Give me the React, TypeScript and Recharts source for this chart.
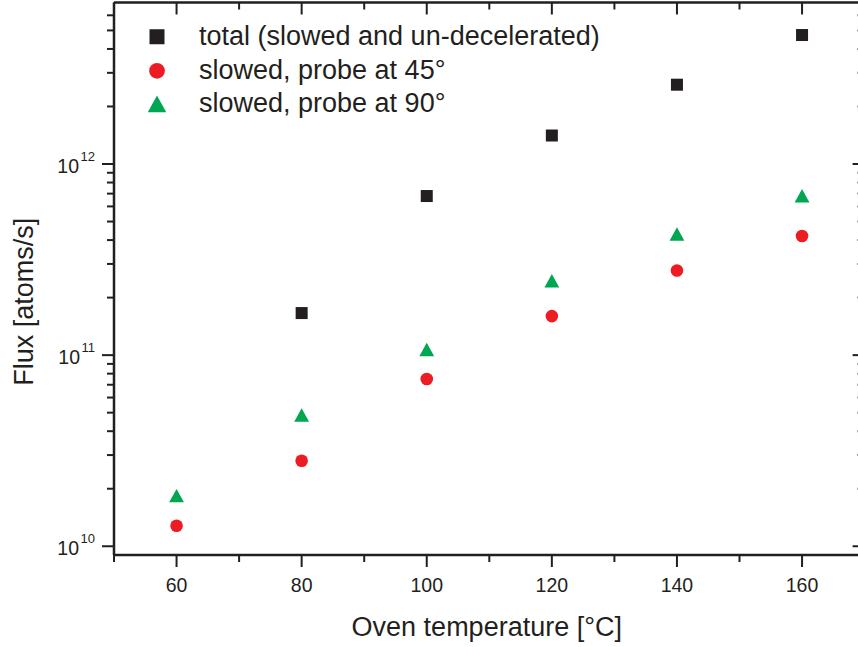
import React from 'react';
import { ScatterChart, Scatter, XAxis, YAxis, Legend } from 'recharts';

// oven temperature [°C]
const temps = [60, 80, 100, 120, 140, 160];
// flux [atoms/s], no total measured at 60 °C
const totalFlux = [null, 1.66e11, 6.8e11, 1.41e12, 2.6e12, 4.73e12];
const slowed45 = [1.28e10, 2.8e10, 7.5e10, 1.6e11, 2.77e11, 4.2e11];
const slowed90 = [1.84e10, 4.86e10, 1.07e11, 2.45e11, 4.3e11, 6.82e11];

const seriesNames = ['total (slowed and un-decelerated)', 'slowed, probe at 45°', 'slowed, probe at 90°'];

const xMajor = [60, 80, 100, 120, 140, 160];
const xTicks = [50, 60, 70, 80, 90, 100, 110, 120, 130, 140, 150, 160, 170];
const yMajor = [1e10, 1e11, 1e12];
const yMinor = [
  2e10, 3e10, 4e10, 5e10, 6e10, 7e10, 8e10, 9e10,
  2e11, 3e11, 4e11, 5e11, 6e11, 7e11, 8e11, 9e11,
  2e12, 3e12, 4e12, 5e12, 6e12,
];

const FONT = '"Liberation Sans", Arial, sans-serif';
const INK = '#231f20';
const BLACK = '#231f20';
const RED = '#ed1c24';
const GREEN = '#00a651';

const toPoints = (vals: (number | null)[]) =>
  temps
    .map((t, i) => ({ t, v: vals[i] }))
    .filter((p) => p.v != null);

const totalData = toPoints(totalFlux);
const s45Data = toPoints(slowed45);
const s90Data = toPoints(slowed90);

const marker = (type: string, cx: number, cy: number, color: string, k = 1) => {
  if (type === 'square') {
    const s = 12 * k;
    return <rect x={cx - s / 2} y={cy - s / 2} width={s} height={s} fill={color} />;
  }
  if (type === 'triangle') {
    const w = 14.8 * k;
    const h = 13.4 * k;
    return (
      <polygon
        points={`${cx},${cy - h / 2} ${cx - w / 2},${cy + h / 2} ${cx + w / 2},${cy + h / 2}`}
        fill={color}
      />
    );
  }
  return <circle cx={cx} cy={cy} r={6.3 * k} fill={color} />;
};

const YTick = (props: any) => {
  const { x, y, payload, side } = props;
  const major = yMajor.includes(payload.value);
  const len = major ? 12 : 7;
  const exp = Math.round(Math.log10(payload.value));
  return (
    <g>
      <line x1={x} y1={y} x2={x - len} y2={y} stroke={INK} strokeWidth={2} />
      {major && side === 'left' && (
        <text x={x - 19} y={y + 8.7} textAnchor="end" fontFamily={FONT} fontSize={19.5} fill={INK}>
          10
          <tspan dx={1.5} dy={-12} fontSize={13}>
            {exp}
          </tspan>
        </text>
      )}
    </g>
  );
};

const XTick = (props: any) => {
  const { x, y, payload, side } = props;
  const major = xMajor.includes(payload.value);
  const len = major ? 12 : 7;
  return (
    <g>
      <line x1={x} y1={y} x2={x} y2={y + len} stroke={INK} strokeWidth={2} />
      {major && side === 'bottom' && (
        <text x={x} y={y + 36.7} textAnchor="middle" fontFamily={FONT} fontSize={19.5} fill={INK}>
          {payload.value}
        </text>
      )}
    </g>
  );
};

const YTitle = (props: any) => {
  const vb = props.viewBox || { x: 113, y: 2.5, width: 1, height: 552.5 };
  const cx = vb.x + vb.width - 81;
  const cy = vb.y + vb.height / 2 + 23;
  return (
    <text
      x={cx}
      y={cy}
      transform={`rotate(-90 ${cx} ${cy})`}
      textAnchor="middle"
      fontFamily={FONT}
      fontSize={27}
      fill={INK}
    >
      Flux [atoms/s]
    </text>
  );
};

const XTitle = (props: any) => {
  const vb = props.viewBox || { x: 114, y: 555, width: 750.6, height: 1 };
  return (
    <text
      x={vb.x + vb.width / 2 - 2.5}
      y={vb.y + 81}
      textAnchor="middle"
      fontFamily={FONT}
      fontSize={27}
      fill={INK}
    >
      Oven temperature [°C]
    </text>
  );
};

const LegendContent = (props: any) => {
  const items = [...(props.payload || [])].sort(
    (a: any, b: any) => seriesNames.indexOf(a.value) - seriesNames.indexOf(b.value),
  );
  return (
    <div style={{ fontFamily: FONT, fontSize: 27, color: INK }}>
      {items.map((entry: any) => (
        <div
          key={entry.value}
          style={{ display: 'flex', alignItems: 'center', height: 33.5, lineHeight: '33.5px', whiteSpace: 'nowrap' }}
        >
          <svg width={34} height={33.5} style={{ display: 'block' }}>
            {marker(entry.type, 17, 16.75, entry.color, 1.25)}
          </svg>
          <span style={{ marginLeft: 25 }}>{entry.value}</span>
        </div>
      ))}
    </div>
  );
};

const App = () => {
  return (
    <div
      style={{
        position: 'absolute',
        left: 0,
        top: 0,
        width: 858,
        height: 647,
        overflow: 'hidden',
        background: '#fff',
      }}
    >
      <ScatterChart width={866} height={647} margin={{ top: 1.5, right: 0.4, bottom: 91, left: 113 }}>
        <XAxis
          xAxisId="bottom"
          dataKey="t"
          type="number"
          domain={[50, 170]}
          allowDataOverflow
          ticks={xTicks}
          interval={0}
          height={1}
          tickSize={0}
          tickMargin={0}
          tickLine={false}
          axisLine={{ stroke: INK, strokeWidth: 2.5 }}
          tick={<XTick side="bottom" />}
          label={<XTitle />}
        />
        <XAxis
          xAxisId="top"
          orientation="top"
          dataKey="t"
          type="number"
          domain={[50, 170]}
          allowDataOverflow
          ticks={xTicks}
          interval={0}
          height={1}
          tickSize={0}
          tickMargin={0}
          tickLine={false}
          axisLine={{ stroke: INK, strokeWidth: 2.5 }}
          tick={<XTick side="top" />}
        />
        <YAxis
          yAxisId="left"
          dataKey="v"
          type="number"
          scale="log"
          domain={[9e9, 7e12]}
          allowDataOverflow
          ticks={[...yMajor, ...yMinor]}
          interval={0}
          width={1}
          tickSize={0}
          tickMargin={0}
          tickLine={false}
          axisLine={{ stroke: INK, strokeWidth: 2.5 }}
          tick={<YTick side="left" />}
          label={<YTitle />}
        />
        <YAxis
          yAxisId="right"
          orientation="right"
          dataKey="v"
          type="number"
          scale="log"
          domain={[9e9, 7e12]}
          allowDataOverflow
          ticks={[...yMajor, ...yMinor]}
          interval={0}
          width={1}
          tickSize={0}
          tickMargin={0}
          tickLine={false}
          axisLine={{ stroke: INK, strokeWidth: 2.5 }}
          tick={<YTick side="right" />}
        />
        <Legend
          align="center"
          verticalAlign="middle"
          content={<LegendContent />}
          wrapperStyle={{ left: 140, top: 20.25, width: 'auto' }}
        />
        <Scatter
          name={seriesNames[0]}
          data={totalData}
          xAxisId="bottom"
          yAxisId="left"
          fill={BLACK}
          legendType="square"
          isAnimationActive={false}
          shape={(p: any) => marker('square', p.cx, p.cy, BLACK)}
        />
        <Scatter
          name={seriesNames[1]}
          data={s45Data}
          xAxisId="bottom"
          yAxisId="left"
          fill={RED}
          legendType="circle"
          isAnimationActive={false}
          shape={(p: any) => marker('circle', p.cx, p.cy, RED)}
        />
        <Scatter
          name={seriesNames[2]}
          data={s90Data}
          xAxisId="bottom"
          yAxisId="left"
          fill={GREEN}
          legendType="triangle"
          isAnimationActive={false}
          shape={(p: any) => marker('triangle', p.cx, p.cy, GREEN)}
        />
      </ScatterChart>
    </div>
  );
};

export default App;
